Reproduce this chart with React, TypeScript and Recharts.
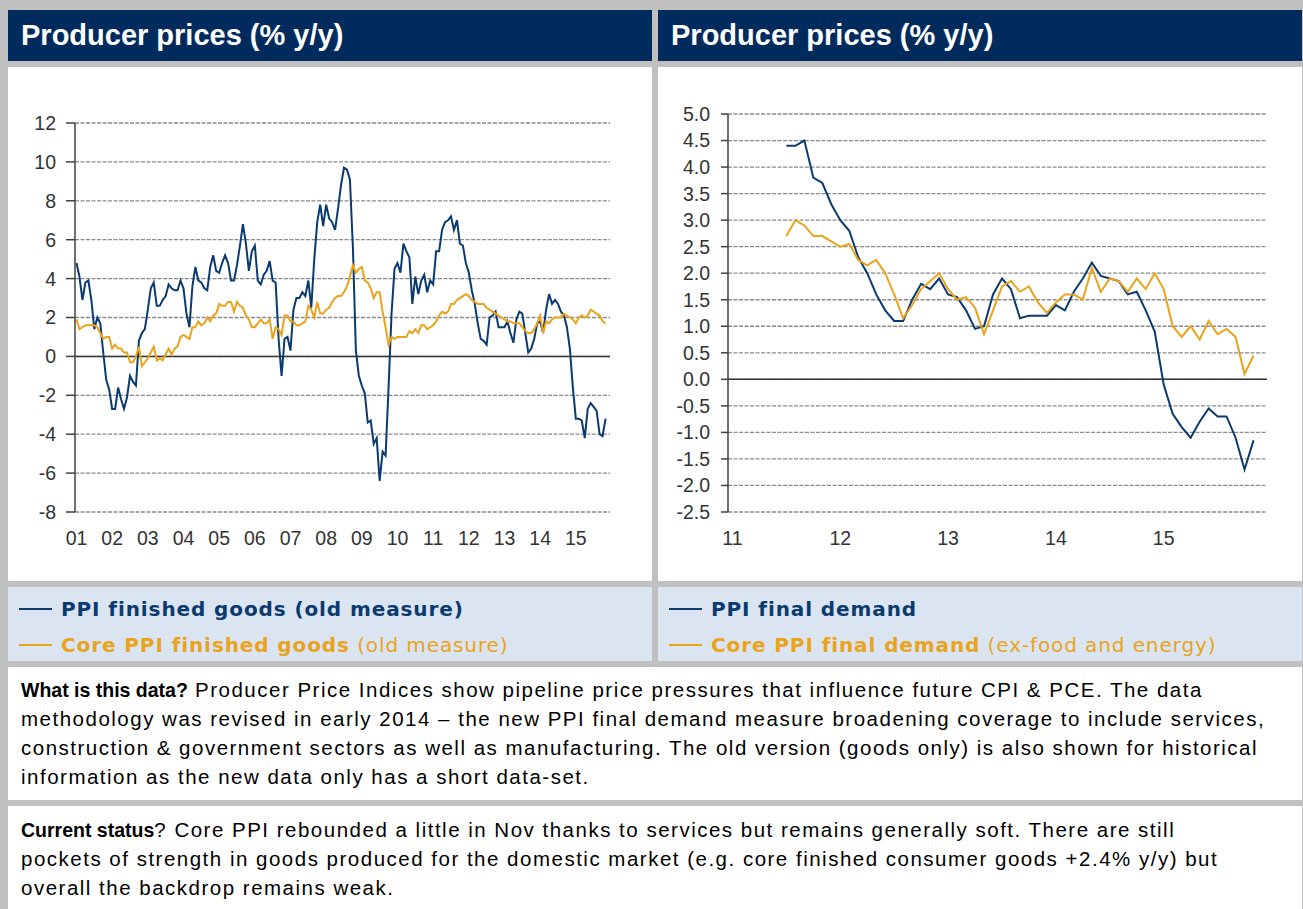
import React from 'react';
import { LineChart, Line, XAxis, YAxis, CartesianGrid, ReferenceLine } from 'recharts';

// ---------- Left chart: old measure, monthly Jan-2001 .. Nov-2015 ----------
const oldYearLabels = ['01', '02', '03', '04', '05', '06', '07', '08', '09', '10', '11', '12', '13', '14', '15'];

const ppiFinishedGoods = [
  4.8, 4.1, 2.9, 3.8, 3.9, 2.9, 1.4, 2.0, 1.7, 0.2, -1.2, -1.7,
  -2.7, -2.7, -1.6, -2.2, -2.7, -2.1, -1.0, -1.3, -1.5, 0.8, 1.2, 1.4,
  2.4, 3.5, 3.8, 2.6, 2.6, 2.9, 3.1, 3.7, 3.5, 3.4, 3.4, 3.9,
  3.5, 2.2, 1.5, 3.6, 4.6, 3.9, 3.8, 3.5, 3.4, 4.6, 5.2, 4.4,
  4.3, 4.8, 5.2, 4.8, 3.9, 3.9, 4.7, 5.7, 6.8, 5.8, 4.4, 5.4,
  5.7, 3.9, 3.7, 4.2, 4.4, 4.9, 3.9, 3.8, 0.9, -1.0, 0.9, 1.0,
  0.3, 2.4, 3.0, 3.0, 3.3, 3.1, 3.9, 2.5, 5.0, 6.9, 7.8, 6.7,
  7.8, 7.1, 6.9, 6.5, 7.6, 8.8, 9.7, 9.6, 9.1, 5.6, 0.3, -1.0,
  -1.5, -1.9, -3.4, -3.3, -4.5, -4.2, -6.4, -4.9, -5.1, -1.6, 2.2, 4.5,
  4.8, 4.3, 5.8, 5.4, 5.1, 2.7, 4.1, 3.2, 3.9, 4.2, 3.3, 3.9,
  3.7, 5.4, 5.4, 6.5, 6.9, 7.0, 7.2, 6.5, 7.0, 5.8, 5.7, 4.8,
  4.3, 3.4, 2.7, 1.7, 0.9, 0.8, 0.6, 2.0, 2.1, 2.3, 1.5, 1.5,
  1.5, 1.8, 1.2, 0.7, 1.9, 2.3, 2.2, 1.2, 0.2, 0.4, 0.9, 1.7,
  1.8, 1.2, 2.4, 3.2, 2.7, 2.9, 2.7, 2.3, 2.1, 1.5, 0.4, -1.6,
  -3.2, -3.2, -3.3, -4.2, -2.7, -2.4, -2.6, -2.8, -4.0, -4.1, -3.2,
];

const corePpiFinishedGoods = [
  1.9, 1.4, 1.5, 1.6, 1.6, 1.6, 1.6, 1.5, 1.2, 0.9, 1.0, 1.0,
  0.4, 0.6, 0.4, 0.4, 0.2, 0.2, -0.3, -0.3, 0.0, 0.5, -0.5, -0.3,
  -0.1, 0.2, 0.5, -0.2, -0.1, -0.2, 0.1, 0.4, 0.1, 0.4, 0.5, 1.0,
  1.1, 1.0, 0.9, 1.5, 1.5, 1.8, 1.6, 1.7, 2.0, 1.8, 2.1, 2.2,
  2.7, 2.6, 2.6, 2.8, 2.8, 2.3, 2.8, 2.6, 2.5, 2.1, 1.9, 1.5,
  1.5, 1.7, 1.9, 1.7, 1.7, 1.9, 0.9, 1.5, 1.4, 1.1, 2.1, 2.1,
  1.8, 1.8, 1.6, 1.6, 1.7, 1.8, 2.6, 2.4, 2.0, 2.8, 2.2, 2.2,
  2.4, 2.5, 2.8, 3.0, 3.1, 3.1, 3.3, 3.6, 4.1, 4.7, 4.3, 4.5,
  4.6, 3.9, 3.8, 3.5, 3.0, 3.3, 3.3, 2.3, 1.5, 0.6, 1.0, 0.9,
  1.0, 1.0, 1.0, 1.0, 1.3, 1.2, 1.4, 1.2, 1.6, 1.6, 1.4, 1.5,
  1.6, 1.8, 2.1, 2.3, 2.2, 2.3, 2.7, 2.7, 2.9, 3.0, 3.1, 3.2,
  3.1, 2.9, 2.8, 2.7, 2.7, 2.7, 2.5, 2.4, 2.3, 2.2, 2.1, 2.0,
  1.9, 1.8, 1.8, 1.7, 1.7, 1.7, 1.5, 1.3, 1.2, 1.2, 1.4, 1.7,
  2.1, 1.2, 1.8, 1.7, 1.9, 2.0, 2.0, 2.0, 2.2, 2.1, 2.0, 1.9,
  1.7, 2.0, 2.1, 2.0, 2.1, 2.4, 2.3, 2.2, 2.1, 1.8, 1.7,
];

const oldYTicks = [-8, -6, -4, -2, 0, 2, 4, 6, 8, 10, 12];

// ---------- Right chart: new measure, monthly Jul-2011 .. Nov-2015 (axis Jan-2011 .. Dec-2015) ----------
const newYearLabels = ['11', '12', '13', '14', '15'];
const newStartMonth = 6; // Jul-2011, months counted from Jan-2011

const ppiFinalDemand = [
  4.4, 4.4, 4.5, 3.8, 3.7, 3.3,
  3.0, 2.8, 2.3, 2.0, 1.6, 1.3, 1.1, 1.1, 1.5, 1.8, 1.7, 1.9,
  1.6, 1.55, 1.3, 0.95, 1.0, 1.6, 1.9, 1.7, 1.15, 1.2, 1.2, 1.2,
  1.4, 1.3, 1.65, 1.9, 2.2, 1.95, 1.9, 1.85, 1.6, 1.65, 1.3, 0.9,
  -0.1, -0.65, -0.9, -1.1, -0.8, -0.55, -0.7, -0.7, -1.1, -1.7, -1.15,
];

const corePpiFinalDemand = [
  2.7, 3.0, 2.9, 2.7, 2.7, 2.6,
  2.5, 2.55, 2.25, 2.15, 2.25, 2.0, 1.6, 1.15, 1.4, 1.7, 1.85, 2.0,
  1.7, 1.5, 1.55, 1.35, 0.85, 1.3, 1.75, 1.85, 1.65, 1.75, 1.45, 1.25,
  1.45, 1.6, 1.6, 1.5, 2.1, 1.65, 1.9, 1.85, 1.65, 1.9, 1.7, 2.0,
  1.7, 1.0, 0.8, 1.0, 0.75, 1.1, 0.85, 0.95, 0.8, 0.1, 0.45,
];

const newYTicks = [-2.5, -2.0, -1.5, -1.0, -0.5, 0, 0.5, 1.0, 1.5, 2.0, 2.5, 3.0, 3.5, 4.0, 4.5, 5.0];

// ---------- Texts ----------
const titleText = 'Producer prices (% y/y)';
const whatLines = [
  'Producer Price Indices show pipeline price pressures that influence future CPI & PCE. The data',
  'methodology was revised in early 2014 \u2013 the new PPI final demand measure broadening coverage to include services,',
  'construction & government sectors as well as manufacturing. The old version (goods only) is also shown for historical',
  'information as the new data only has a short data-set.',
];
const statusLines = [
  '? Core PPI rebounded a little in Nov thanks to services but remains generally soft. There are still',
  'pockets of strength in goods produced for the domestic market (e.g. core finished consumer goods +2.4% y/y) but',
  'overall the backdrop remains weak.',
];

// ---------- Styles ----------
const NAVY = '#002b5c';
const BLUE = '#0b3a6f';
const ORANGE = '#e9a31c';
const GRAY = '#c0c0c0';
const LEGEND_BG = '#dbe5f1';
const ARIAL = '"Liberation Sans", Arial, sans-serif';
const VERDANA = '"DejaVu Sans", Verdana, sans-serif';

const oldData = ppiFinishedGoods.map((v, i) => ({ m: i, ppi: v, core: corePpiFinishedGoods[i] }));
const newData = ppiFinalDemand.map((v, i) => ({ m: i + newStartMonth, ppi: v, core: corePpiFinalDemand[i] }));
const oldXTicks = oldYearLabels.map((_, i) => i * 12);
const newXTicks = newYearLabels.map((_, i) => i * 12);

const tickStyle = { fill: '#333333', fontSize: 19.5, fontFamily: ARIAL };

function Header({ left }: { left: number }) {
  return (
    <div
      style={{
        position: 'absolute', left, top: 10, width: 644, height: 51, background: NAVY,
        color: '#ffffff', fontFamily: ARIAL, fontWeight: 'bold', fontSize: 29,
        lineHeight: '51px', paddingLeft: 13, boxSizing: 'border-box', whiteSpace: 'nowrap',
      }}
    >
      {titleText}
    </div>
  );
}

const legendFont = { fontFamily: VERDANA, fontSize: 20, letterSpacing: 0.9 };

function LegendRow({ color, bold, rest, top }: { color: string; bold: string; rest?: string; top: number }) {
  return (
    <div style={{ position: 'absolute', left: 11, top, height: 30, display: 'flex', alignItems: 'center', whiteSpace: 'nowrap' }}>
      <div style={{ width: 33, height: 2, background: color, marginRight: 9 }} />
      <span style={{ ...legendFont, color, fontWeight: 'bold' }}>{bold}</span>
      {rest ? <span style={{ ...legendFont, color, whiteSpace: 'pre' }}>{' ' + rest}</span> : null}
    </div>
  );
}

const bodyBold = { fontSize: 19.5, fontWeight: 'bold' as const, letterSpacing: 0 };
const bodyRegular = { fontSize: 20.5, letterSpacing: 1.5 };

export default function App() {
  return (
    <div style={{ position: 'absolute', left: 0, top: 0, width: 1303, height: 909, background: GRAY, overflow: 'hidden' }}>
      <Header left={8} />
      <Header left={658} />

      {/* Left chart panel */}
      <div style={{ position: 'absolute', left: 8, top: 67, width: 644, height: 514, background: '#fff' }}>
        <LineChart width={644} height={514} data={oldData} margin={{ top: 56, right: 42, bottom: 0, left: 0 }}>
          <CartesianGrid vertical={false} stroke="#8a8a8a" strokeDasharray="4 1.5" strokeWidth={1.3} />
          <XAxis
            type="number" dataKey="m" domain={[-0.5, 179.5]} ticks={oldXTicks} interval={0}
            tickFormatter={(v: number) => oldYearLabels[Math.round(v / 12)]}
            axisLine={false} tickLine={false} tickSize={0} tickMargin={19} height={69} tick={tickStyle}
          />
          <YAxis
            type="number" domain={[-8, 12]} ticks={oldYTicks} interval={0} width={67}
            axisLine={{ stroke: '#404040', strokeWidth: 1.5 }} tickLine={{ stroke: '#404040', strokeWidth: 1.5 }}
            tickSize={9} tickMargin={10} tick={tickStyle}
          />
          <ReferenceLine y={0} stroke="#333333" strokeWidth={1.5} />
          <Line type="linear" dataKey="ppi" stroke={BLUE} strokeWidth={2} dot={false} isAnimationActive={false} />
          <Line type="linear" dataKey="core" stroke={ORANGE} strokeWidth={2} dot={false} isAnimationActive={false} />
        </LineChart>
      </div>

      {/* Right chart panel */}
      <div style={{ position: 'absolute', left: 658, top: 67, width: 644, height: 514, background: '#fff' }}>
        <LineChart width={644} height={514} data={newData} margin={{ top: 47, right: 35, bottom: 0, left: 0 }}>
          <CartesianGrid vertical={false} stroke="#8a8a8a" strokeDasharray="4 1.5" strokeWidth={1.3} />
          <XAxis
            type="number" dataKey="m" domain={[-0.5, 59.5]} ticks={newXTicks} interval={0}
            tickFormatter={(v: number) => newYearLabels[Math.round(v / 12)]}
            axisLine={false} tickLine={false} tickSize={0} tickMargin={19} height={69} tick={tickStyle}
          />
          <YAxis
            type="number" domain={[-2.5, 5]} ticks={newYTicks} interval={0} width={70}
            tickFormatter={(v: number) => v.toFixed(1)}
            axisLine={{ stroke: '#404040', strokeWidth: 1.5 }} tickLine={{ stroke: '#404040', strokeWidth: 1.5 }}
            tickSize={7} tickMargin={11} tick={tickStyle}
          />
          <ReferenceLine y={0} stroke="#333333" strokeWidth={1.5} />
          <Line type="linear" dataKey="ppi" stroke={BLUE} strokeWidth={2} dot={false} isAnimationActive={false} />
          <Line type="linear" dataKey="core" stroke={ORANGE} strokeWidth={2} dot={false} isAnimationActive={false} />
        </LineChart>
      </div>

      {/* Legends */}
      <div style={{ position: 'absolute', left: 8, top: 587, width: 644, height: 74, background: LEGEND_BG }}>
        <LegendRow color={BLUE} bold="PPI finished goods (old measure)" top={7} />
        <LegendRow color={ORANGE} bold="Core PPI finished goods" rest="(old measure)" top={43} />
      </div>
      <div style={{ position: 'absolute', left: 658, top: 587, width: 644, height: 74, background: LEGEND_BG }}>
        <LegendRow color={BLUE} bold="PPI final demand" top={7} />
        <LegendRow color={ORANGE} bold="Core PPI final demand" rest="(ex-food and energy)" top={43} />
      </div>

      {/* Text blocks */}
      <div
        style={{
          position: 'absolute', left: 8, top: 667, width: 1294, height: 133, background: '#fff',
          fontFamily: ARIAL, lineHeight: '29px', color: '#000', padding: '8px 0 0 13px', boxSizing: 'border-box',
        }}
      >
        {whatLines.map((l, i) => (
          <div key={i} style={{ whiteSpace: 'pre', height: 29 }}>
            {i === 0 ? <span style={bodyBold}>What is this data?</span> : null}
            <span style={bodyRegular}>{i === 0 ? ' ' + l : l}</span>
          </div>
        ))}
      </div>
      <div
        style={{
          position: 'absolute', left: 8, top: 806, width: 1294, height: 103, background: '#fff',
          fontFamily: ARIAL, lineHeight: '29px', color: '#000', padding: '9px 0 0 13px', boxSizing: 'border-box',
        }}
      >
        {statusLines.map((l, i) => (
          <div key={i} style={{ whiteSpace: 'pre', height: 29 }}>
            {i === 0 ? <span style={bodyBold}>Current status</span> : null}
            <span style={bodyRegular}>{l}</span>
          </div>
        ))}
      </div>
    </div>
  );
}
